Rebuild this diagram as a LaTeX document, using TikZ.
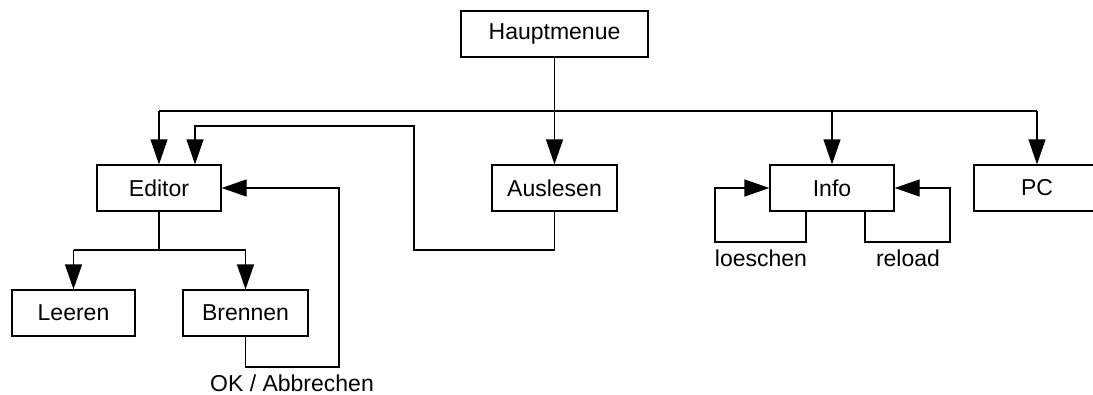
\documentclass[tikz,border=0pt]{standalone}
\usepackage{fontspec}
\setmainfont{Liberation Sans}
\usetikzlibrary{arrows.meta}
\begin{document}
\begin{tikzpicture}[x=1pt,y=-1pt,
  box/.style={draw,line width=1.3pt,minimum height=46pt,inner sep=0pt,font=\fontsize{23}{27}\selectfont},
  conn/.style={line width=1.3pt},
  arr/.style={conn,-{Triangle[length=25pt,width=17pt]}},
  lbl/.style={anchor=base,inner sep=0pt,font=\fontsize{23}{27}\selectfont}]
\clip (0,0) rectangle (1093,394);
\fill[white] (0,0) rectangle (1093,394);
% nodes
\node[box,minimum width=187pt] (haupt) at (554.5,34) {Hauptmenue};
\node[box,minimum width=124pt] (editor) at (159,188) {Editor};
\node[box,minimum width=125pt] (auslesen) at (554.5,188) {Auslesen};
\node[box,minimum width=124pt] (info) at (832,188) {Info};
\node[box,minimum width=126pt] (pc) at (1037,188) {PC};
\node[box,minimum width=123pt] (leeren) at (73.5,313) {Leeren};
\node[box,minimum width=125pt] (brennen) at (245.5,313) {Brennen};
% labels
\node[lbl] (ok) at (292,391) {OK / Abbrechen};
\node[lbl] (loeschen) at (761,266) {loeschen};
\node[lbl] (reload) at (908,266) {reload};
% bus from Hauptmenue
\coordinate (hb) at (haupt.south |- 0,111);
\coordinate (busL) at (editor.north |- 0,111);
\coordinate (busR) at (pc.north |- 0,111);
\draw[conn] (haupt.south) -- (hb);
\draw[conn] (busL) -- (busR);
\draw[arr] (busL) -- (editor.north);
\draw[arr] (hb) -- (auslesen.north);
\draw[arr] (info.north |- 0,111) -- (info.north);
\draw[arr] (busR) -- (pc.north);
% Auslesen back to Editor
\coordinate (edtop2) at ([xshift=36pt]editor.north);
\draw[arr] (auslesen.south) -- (auslesen.south |- 0,250) -- (414,250) -- (414,126) -- (edtop2 |- 0,126) -- (edtop2);
% Brennen back to Editor
\draw[arr] (brennen.south) -- (brennen.south |- 0,367) -- (339,367) -- (339,188) -- (editor.east);
% Editor to children
\coordinate (eb) at (editor.south |- 0,250);
\draw[conn] (editor.south) -- (eb);
\draw[conn] (leeren.north |- 0,250) -- (brennen.north |- 0,250);
\draw[arr] (leeren.north |- 0,250) -- (leeren.north);
\draw[arr] (brennen.north |- 0,250) -- (brennen.north);
% Info loops
\draw[arr] ([xshift=-26pt]info.south) -- ([xshift=-26pt]info.south |- 0,242) -- (715,242) -- (715,188) -- (info.west);
\draw[arr] ([xshift=33pt]info.south) -- ([xshift=33pt]info.south |- 0,242) -- (950,242) -- (950,188) -- (info.east);
\end{tikzpicture}
\end{document}
